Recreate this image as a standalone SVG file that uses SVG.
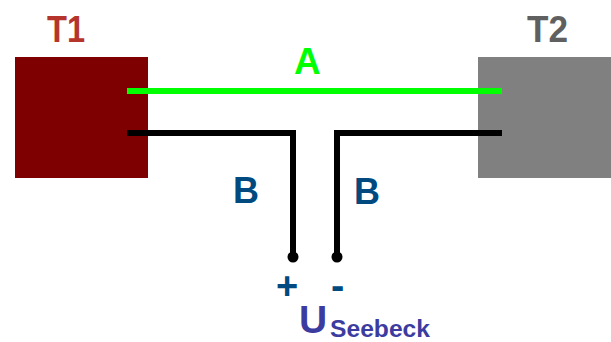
<svg xmlns="http://www.w3.org/2000/svg" width="611" height="342" viewBox="0 0 611 342">
<style>
text{font-family:"Liberation Sans",Arial,sans-serif;font-weight:bold}
.w{fill:none;stroke-width:6}
.k{stroke:#000}
.d{fill:#000}
.b{fill:#004a7f;font-size:36px}
</style>
<rect width="611" height="342" fill="#fff"/>
<g id="T1"><rect x="15" y="57" width="133" height="121" fill="#7f0000"/><text x="47" y="42" font-size="37" fill="#b5352c" textLength="38" lengthAdjust="spacingAndGlyphs">T1</text></g>
<g id="T2"><rect x="478" y="57" width="133" height="121" fill="#808080"/><text x="527" y="42" font-size="37" fill="#606060" textLength="41" lengthAdjust="spacingAndGlyphs">T2</text></g>
<g id="connectors">
<path class="w" stroke="#00ff00" d="M127 91H502"/>
<path class="w k" d="M127 133H293V257"/>
<path class="w k" d="M502 133H337V257"/>
<circle class="d" cx="293" cy="257" r="5.5"/>
<circle class="d" cx="337" cy="257" r="5.5"/>
</g>
<g id="label-A"><text x="294" y="74" font-size="37" fill="#00ff00">A</text></g>
<g id="label-B1"><text class="b" x="233" y="203">B</text></g>
<g id="label-B2"><text class="b" x="354" y="204">B</text></g>
<g id="label-plus"><text x="276" y="299" font-size="38" fill="#004a7f">+</text></g>
<g id="label-minus"><text x="331" y="299" font-size="40" fill="#004a7f">-</text></g>
<g id="label-U"><text x="299" y="333" font-size="39" fill="#3c3ca0">U</text><text x="330" y="337" font-size="23.5" fill="#3c3ca0" textLength="100" lengthAdjust="spacingAndGlyphs">Seebeck</text></g>
</svg>
